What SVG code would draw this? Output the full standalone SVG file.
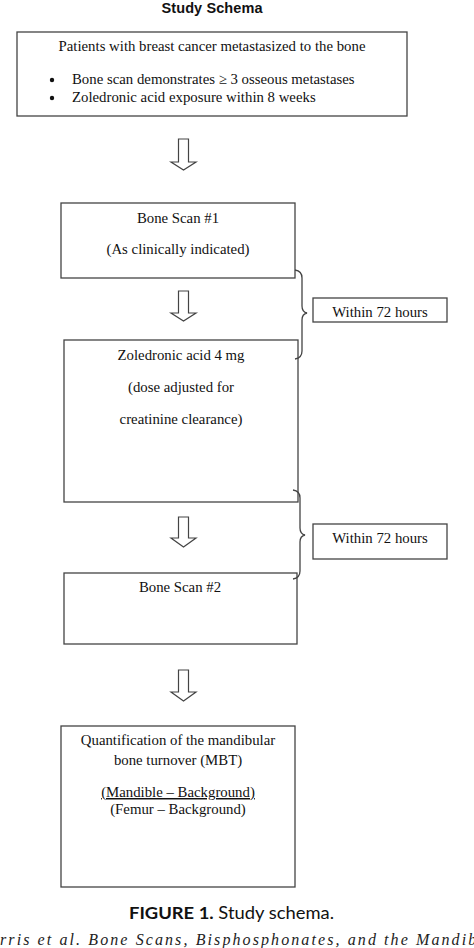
<svg xmlns="http://www.w3.org/2000/svg" width="474" height="948" viewBox="0 0 474 948">
<style>
.box{fill:#fff;stroke:#444;stroke-width:1.3}
.t{font-family:"Liberation Serif","Times New Roman",serif;font-size:14.8px;fill:#111}
.c{text-anchor:middle}
.arr{fill:#fff;stroke:#444;stroke-width:1.2;stroke-linejoin:miter}
.br{fill:none;stroke:#444;stroke-width:1.3}
</style>
<rect width="474" height="948" fill="#fff"/>
<text x="212" y="13" text-anchor="middle" font-family="'Liberation Sans',Arial,sans-serif" font-weight="bold" font-size="14.5" textLength="101" fill="#111">Study Schema</text>

<g id="n1">
<rect class="box" x="17" y="32" width="390" height="84"/>
<text class="t c" x="212" y="51">Patients with breast cancer metastasized to the bone</text>
<circle cx="52" cy="80" r="2.2" fill="#111"/>
<circle cx="52" cy="98" r="2.2" fill="#111"/>
<text class="t" x="72" y="84">Bone scan demonstrates ≥ 3 osseous metastases</text>
<text class="t" x="72" y="102">Zoledronic acid exposure within 8 weeks</text>
</g>

<g id="n2">
<rect class="box" x="61" y="203" width="234" height="75"/>
<text class="t c" x="178" y="223">Bone Scan #1</text>
<text class="t c" x="178" y="254">(As clinically indicated)</text>
</g>

<g id="n3">
<rect class="box" x="64" y="340" width="234" height="162"/>
<text class="t c" x="181" y="360">Zoledronic acid 4 mg</text>
<text class="t c" x="181" y="392">(dose adjusted for</text>
<text class="t c" x="181" y="424">creatinine clearance)</text>
</g>

<g id="n4">
<rect class="box" x="64" y="573" width="233" height="71"/>
<text class="t c" x="180" y="592">Bone Scan #2</text>
</g>

<g id="n5">
<rect class="box" x="61" y="726" width="234" height="161"/>
<text class="t c" x="178" y="745">Quantification of the mandibular</text>
<text class="t c" x="178" y="765">bone turnover (MBT)</text>
<text class="t c" x="178" y="797" text-decoration="underline">(Mandible – Background)</text>
<text class="t c" x="178" y="814">(Femur – Background)</text>
</g>

<g id="w1">
<rect class="box" x="313" y="298" width="134" height="24"/>
<text class="t c" x="380" y="317">Within 72 hours</text>
</g>

<g id="w2">
<rect class="box" x="313" y="524" width="134" height="35"/>
<text class="t c" x="380" y="543">Within 72 hours</text>
</g>

<g id="connectors">
<path class="arr" d="M178.5 139 H188.5 V162 H196 L183.5 170 L171 162 H178.5 Z"/>
<path class="arr" d="M178.5 291 H188.5 V313 H196 L183.5 321 L171 313 H178.5 Z"/>
<path class="arr" d="M178.5 517 H188.5 V538 H196 L183.5 547 L171 538 H178.5 Z"/>
<path class="arr" d="M178.5 670 H188.5 V692 H196 L183.5 701 L171 692 H178.5 Z"/>
<path class="br" d="M295 270 Q302 271 302 278 V306 Q302 312 307 313 Q302 314 302 320 V351 Q302 358 295 359"/>
<path class="br" d="M293 490 Q300 491 300 498 V528 Q300 534 305 535 Q300 536 300 542 V571 Q300 578 293 579"/>
</g>

<text x="129" y="919" font-family="Lato,'Liberation Sans',sans-serif" font-size="17.5" fill="#111" textLength="205" lengthAdjust="spacingAndGlyphs"><tspan font-weight="bold">FIGURE 1.</tspan> Study schema.</text>
<text x="0" y="945" font-family="'Liberation Serif','Times New Roman',serif" font-style="italic" font-size="16" fill="#222" textLength="492" lengthAdjust="spacing">rris et al. Bone Scans, Bisphosphonates, and the Mandible</text>
</svg>
